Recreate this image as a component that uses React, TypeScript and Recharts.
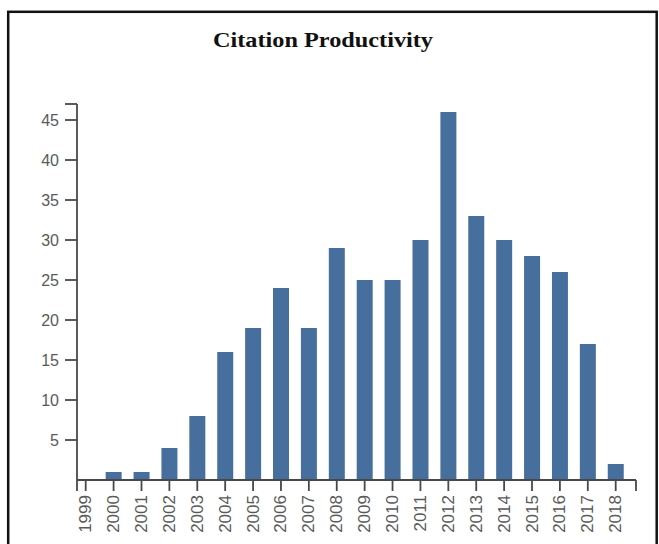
import React from "react";
import { BarChart, Bar, XAxis, YAxis } from "recharts";

const years = [1999, 2000, 2001, 2002, 2003, 2004, 2005, 2006, 2007, 2008, 2009, 2010, 2011, 2012, 2013, 2014, 2015, 2016, 2017, 2018];
const citations = [0, 1, 1, 4, 8, 16, 19, 24, 19, 29, 25, 25, 30, 46, 33, 30, 28, 26, 17, 2];
const yTicks = [5, 10, 15, 20, 25, 30, 35, 40, 45];
const yTop = 47;
const xStart = 1998.688;
const xEnd = 2018.728;
const title = "Citation Productivity";

const data = years.map((y, i) => ({ year: y, value: citations[i] }));

const XTick = (props: any) => {
  const { x, y, payload } = props;
  if (!years.includes(payload.value)) return null;
  return (
    <text
      x={x}
      y={y}
      transform={`rotate(-90, ${x}, ${y})`}
      textAnchor="end"
      dominantBaseline="central"
      fill="#5a5a5a"
      fontSize={17}
      fontFamily="'Liberation Sans', Arial, sans-serif"
    >
      {payload.value}
    </text>
  );
};

const YTick = (props: any) => {
  const { x, y, payload } = props;
  if (!yTicks.includes(payload.value)) return null;
  return (
    <text
      x={x}
      y={y}
      textAnchor="end"
      dominantBaseline="central"
      fill="#5a5a5a"
      fontSize={16}
      fontFamily="'Liberation Sans', Arial, sans-serif"
    >
      {payload.value}
    </text>
  );
};

export default function App() {
  return (
    <div style={{ position: "absolute", left: 0, top: 0, width: 659, height: 544, overflow: "hidden", background: "#fff" }}>
      <BarChart
        width={659}
        height={544}
        data={data}
        margin={{ top: 104, right: 23, left: 17, bottom: 4 }}
      >
        <XAxis
          dataKey="year"
          type="number"
          domain={[xStart, xEnd]}
          ticks={[xStart, ...years, xEnd]}
          interval={0}
          allowDataOverflow
          height={60}
          tickSize={11}
          tickMargin={4}
          stroke="#484848"
          strokeWidth={1.8}
          tick={<XTick />}
        />
        <YAxis
          type="number"
          domain={[0, yTop]}
          ticks={[...yTicks, yTop]}
          interval={0}
          width={60}
          tickSize={12}
          tickMargin={6}
          stroke="#484848"
          strokeWidth={1.8}
          tick={<YTick />}
        />
        <Bar dataKey="value" fill="#466f9d" barSize={16} isAnimationActive={false} />
      </BarChart>
      <svg
        width={659}
        height={544}
        style={{ position: "absolute", left: 0, top: 0, pointerEvents: "none" }}
      >
        <rect x={8.2} y={11.8} width={648.5} height={600} fill="none" stroke="#111" strokeWidth={2.5} />
        <text
          x={323}
          y={47}
          textAnchor="middle"
          fontFamily="'Liberation Serif', 'Times New Roman', serif"
          fontWeight="bold"
          fontSize={21}
          textLength={220}
          lengthAdjust="spacingAndGlyphs"
          fill="#111"
        >
          {title}
        </text>
      </svg>
    </div>
  );
}
